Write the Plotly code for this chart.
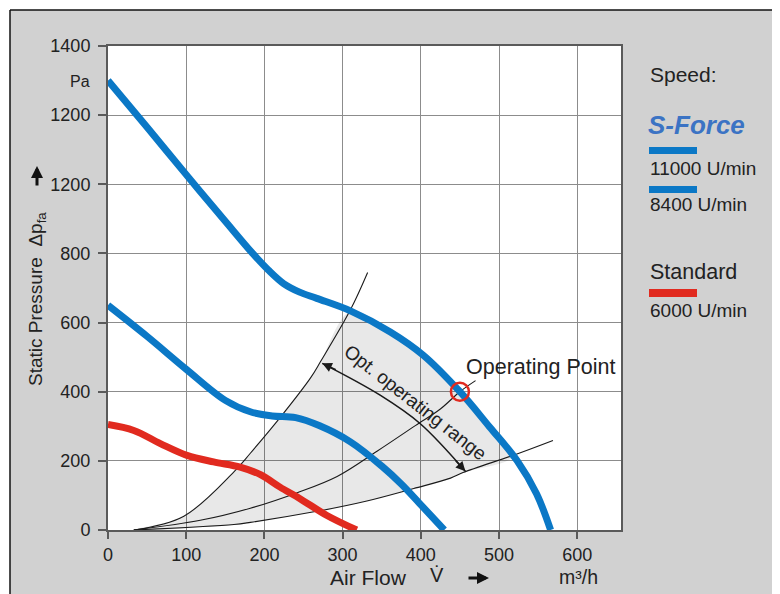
import plotly.graph_objects as go

# ---- data ----
flow_11000 = [0, 50, 100, 150, 185, 205, 225, 245, 267, 310, 361, 403, 450, 488, 523, 548, 566]
p_11000 = [1300, 1165, 1028, 893, 800, 752, 712, 688, 670, 634, 573, 506, 400, 298, 201, 105, 0]

flow_8400 = [0, 50, 100, 150, 182, 210, 240, 270, 310, 350, 375, 398, 430]
p_8400 = [650, 560, 465, 375, 342, 330, 325, 302, 255, 185, 133, 78, 0]

flow_6000 = [0, 33, 67, 101, 135, 169, 195, 220, 246, 280, 318]
p_6000 = [305, 288, 250, 216, 197, 182, 160, 124, 90, 42, 0]

sys_a_x = [33, 97, 161, 182, 220, 259, 272, 310, 332]
sys_a_y = [0, 40, 168, 222, 325, 440, 488, 637, 745]
sys_b_x = [33, 118, 182, 242, 293, 344, 393, 425, 450, 470]
sys_b_y = [0, 28, 63, 108, 155, 228, 302, 350, 400, 432]
sys_c_x = [33, 161, 182, 267, 331, 391, 438, 454, 523, 569]
sys_c_y = [0, 16, 22, 54, 84, 120, 150, 166, 220, 259]

shade_x = [33, 97, 161, 182, 220, 259, 272, 311, 361, 403, 450, 488, 519, 454, 438, 391, 331, 267, 182, 161, 33]
shade_y = [0, 40, 168, 222, 325, 440, 488, 634, 573, 506, 400, 298, 216, 166, 150, 120, 84, 54, 22, 16, 0]

arrow_x = [274, 348, 399, 457]
arrow_y = [482, 390, 308, 170]

op_x = [450]
op_y = [400]

y_tickvals = [0, 200, 400, 600, 800, 1000, 1200, 1400]
y_ticktext = ["0", "200", "400", "600", "800", "1200", "1200", "1400"]
x_tickvals = [0, 100, 200, 300, 400, 500, 600]

BLUE = "#0b78c6"
RED = "#e12a1f"
FONT = "Liberation Sans, Arial, sans-serif"
TXT = "#222222"

fig = go.Figure()

fig.add_trace(go.Scatter(x=shade_x, y=shade_y, mode="lines", fill="toself",
                         fillcolor="rgba(0,0,0,0.09)", line=dict(width=0, shape="spline"),
                         hoverinfo="skip", showlegend=False))

for sx, sy in [(sys_a_x, sys_a_y), (sys_b_x, sys_b_y), (sys_c_x, sys_c_y)]:
    fig.add_trace(go.Scatter(x=sx, y=sy, mode="lines",
                             line=dict(color="#1a1a1a", width=1.1, shape="spline"),
                             showlegend=False))

fig.add_trace(go.Scatter(x=arrow_x, y=arrow_y, mode="lines",
                         line=dict(color="#1a1a1a", width=1.6, shape="spline"), showlegend=False))

for fx, pv, col in [(flow_6000, p_6000, RED), (flow_8400, p_8400, BLUE), (flow_11000, p_11000, BLUE)]:
    fig.add_trace(go.Scatter(x=fx, y=pv, mode="lines",
                             line=dict(color=col, width=7, shape="spline"), showlegend=False))

fig.add_trace(go.Scatter(x=op_x, y=op_y, mode="markers",
                         marker=dict(symbol="circle-open", size=18, color=RED, line=dict(width=2.5)),
                         showlegend=False))

# page has an 8px body margin: figure is drawn offset by OFF pixels
OFF = 8
W, H = 780 - OFF, 594 - OFF
ML, MT = 108 - OFF, 46 - OFF
MR = W - (621 - OFF)
MB = H - (530 - OFF)
PW, PH = W - ML - MR, H - MT - MB


def px(x):
    # x given in reference-page pixels
    return (x - OFF - ML) / PW


def py(y):
    return (H - MB - (y - OFF)) / PH


def text_ann(x, y, txt, size, xa="center", ya="middle", angle=0, ref="paper", **kw):
    d = dict(x=x, y=y, xref=ref, yref=ref, text=txt, showarrow=False, xanchor=xa, yanchor=ya,
             textangle=angle, font=dict(size=size, color=TXT, family=kw.pop("family", FONT)))
    if ref == "data":
        d["xref"], d["yref"] = "x", "y"
    d.update(kw)
    return d


ann = []
ann.append(dict(x=arrow_x[0], y=arrow_y[0], xref="x", yref="y", ax=15, ay=7, showarrow=True,
                arrowhead=2, arrowsize=1.2, arrowwidth=1.6, arrowcolor="#1a1a1a", text=""))
ann.append(dict(x=arrow_x[-1], y=arrow_y[-1], xref="x", yref="y", ax=-11, ay=-12, showarrow=True,
                arrowhead=2, arrowsize=1.2, arrowwidth=1.6, arrowcolor="#1a1a1a", text=""))
ann.append(text_ann(393, 368, "Opt. operating range", 19, angle=38, ref="data"))
ann.append(text_ann(455, 471, "Operating Point", 21.5, xa="left", ref="data"))
ann.append(text_ann(px(92), py(81), "Pa", 16, xa="right"))
ann.append(text_ann(px(37), py(299), "Static Pressure  Δp<sub>fa</sub>", 19, angle=-90))
ann.append(dict(x=px(37), y=py(166), xref="paper", yref="paper", ax=0, ay=21, showarrow=True,
                arrowhead=2, arrowsize=0.8, arrowwidth=3, arrowcolor="#111", text=""))
ann.append(text_ann(px(368), py(577), "Air Flow", 21))
ann.append(text_ann(px(437), py(575), "V̇", 20))
ann.append(dict(x=px(489), y=py(578), xref="paper", yref="paper", ax=-22, ay=0, showarrow=True,
                arrowhead=2, arrowsize=0.8, arrowwidth=3, arrowcolor="#111", text=""))
ann.append(text_ann(px(578), py(577), "m³/h", 19.5))
for txt, yy, sz in [("Speed:", 75, 21), ("11000 U/min", 168, 19), ("8400 U/min", 205, 19),
                    ("Standard", 272, 21.5), ("6000 U/min", 310, 19)]:
    ann.append(text_ann(px(648), py(yy), txt, sz, xa="left"))
ann.append(dict(x=px(646), y=py(125), xref="paper", yref="paper", text="<b><i>S-Force</i></b>",
                xanchor="left", yanchor="middle", showarrow=False,
                font=dict(size=26, color="#3b73c4", family="Liberation Sans Narrow, " + FONT)))

shapes = []
for y0, y1, col in [(147, 154, BLUE), (186, 193, BLUE), (289, 297, RED)]:
    shapes.append(dict(type="rect", xref="paper", yref="paper", x0=px(649), x1=px(697),
                       y0=py(y1), y1=py(y0), fillcolor=col, line=dict(width=0)))
# white outer strips and black frame lines (top / left)
shapes.append(dict(type="rect", xref="paper", yref="paper", x0=px(0), x1=px(10), y0=py(600), y1=py(0),
                   fillcolor="white", line=dict(width=0)))
shapes.append(dict(type="rect", xref="paper", yref="paper", x0=px(0), x1=px(790), y0=py(10), y1=py(0),
                   fillcolor="white", line=dict(width=0)))
shapes.append(dict(type="line", xref="paper", yref="paper", x0=px(10), x1=px(790), y0=py(10), y1=py(10),
                   line=dict(color="#111", width=1.5)))
shapes.append(dict(type="line", xref="paper", yref="paper", x0=px(10), x1=px(10), y0=py(10), y1=py(600),
                   line=dict(color="#111", width=1.5)))

fig.update_layout(
    width=W, height=H,
    margin=dict(l=ML, r=MR, t=MT, b=MB),
    paper_bgcolor="#d1d1d1",
    plot_bgcolor="white",
    showlegend=False,
    font=dict(family=FONT, color=TXT),
    annotations=ann,
    shapes=shapes,
    xaxis=dict(range=[0, 656], tickvals=x_tickvals, showgrid=True, gridcolor="#8c8c8c", gridwidth=1,
               zeroline=False, showline=True, linecolor="#5a5a5a", linewidth=2, mirror=True,
               ticks="outside", ticklen=7, tickcolor="#5a5a5a", tickwidth=1.5,
               tickfont=dict(size=18, color=TXT, family=FONT)),
    yaxis=dict(range=[0, 1400], tickvals=y_tickvals, ticktext=y_ticktext, showgrid=True,
               gridcolor="#8c8c8c", gridwidth=1, zeroline=False, showline=True, linecolor="#5a5a5a",
               linewidth=2, mirror=True, ticks="outside", ticklen=8, tickcolor="#5a5a5a",
               tickwidth=1.5, ticklabelstandoff=4, tickfont=dict(size=18, color=TXT, family=FONT)),
)

fig.write_html("out.html")
